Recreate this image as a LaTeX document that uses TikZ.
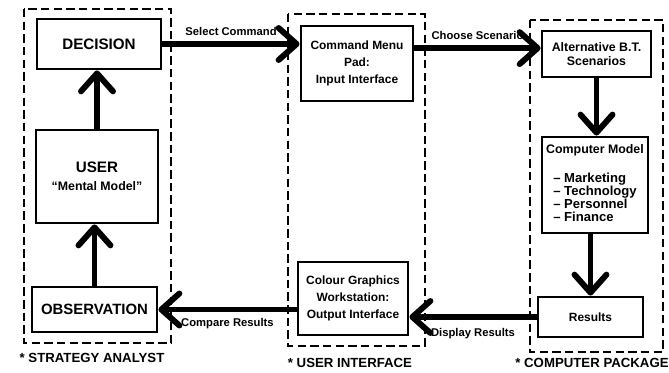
\documentclass[tikz,border=0pt]{standalone}
\usepackage{fontspec}
\setmainfont{Liberation Sans}
\usetikzlibrary{arrows.meta}

\begin{document}
\begin{tikzpicture}[x=0.025cm,y=-0.025cm,
    box/.style={draw,line width=2pt,align=center,inner sep=2pt,font=\bfseries\fontsize{8.5}{12}\selectfont},
    group/.style={line width=1.3pt,dash pattern=on 6pt off 3pt},
    flow/.style={line width=4.2pt,-{Straight Barb[length=0.45cm,width=0.8cm,round]}},
    lbl/.style={font=\bfseries\fontsize{8}{9}\selectfont,inner sep=1pt},
    grouplbl/.style={font=\bfseries\fontsize{9.4}{11}\selectfont}]
\useasboundingbox (0,0) rectangle (669,373);

% strategy analyst
\draw[group] (24,9) rectangle (171,343);
\node[box,minimum width=3.1cm,minimum height=1.25cm,font=\bfseries\fontsize{10.8}{13}\selectfont] (dec) at (99,44) {DECISION};
\node[box,minimum width=3.05cm,minimum height=2.325cm] (user) at (97,176.5)
    {{\fontsize{10.8}{13}\selectfont USER}\\[1pt]{\fontsize{8.8}{10}\selectfont ``Mental Model''}};
\node[box,minimum width=3.125cm,minimum height=1.125cm,font=\bfseries\fontsize{10.6}{13}\selectfont] (obs) at (94.5,309.5) {OBSERVATION};
\node[grouplbl] (salbl) at (92,358) {* STRATEGY ANALYST};

% user interface
\draw[group] (288,14) rectangle (425,346);
\node[box,minimum width=2.8cm,minimum height=1.875cm] (cmd) at (357,63.5) {Command Menu\\Pad:\\Input Interface};
\node[box,minimum width=2.75cm,minimum height=1.825cm] (cg) at (353,298.5) {Colour Graphics\\Workstation:\\Output Interface};
\node[grouplbl] (uilbl) at (350,363) {* USER INTERFACE};

% computer package
\draw[group] (530,20) rectangle (663,352);
\node[box,minimum width=2.725cm,minimum height=1.15cm,font=\bfseries\fontsize{8.8}{10}\selectfont] (alt) at (596.5,54) {Alternative B.T.\\Scenarios};
\node[box,minimum width=2.65cm,minimum height=2.4cm,font=\bfseries\fontsize{8.8}{10}\selectfont] (cm) at (595,185)
    {Computer Model\\[11pt]{\fontsize{9.3}{8.6}\selectfont\begin{tabular}{@{}l@{}}-- Marketing\\-- Technology\\-- Personnel\\-- Finance\end{tabular}}};
\node[box,minimum width=2.625cm,minimum height=1cm] (res) at (590.5,317) {Results};
\node[grouplbl] (cplbl) at (592,363) {* COMPUTER PACKAGE};

\draw[flow] (user.north) -- (user.north |- dec.south);
\draw[flow] (obs.north) -- (obs.north |- user.south);
\draw[flow] (alt.south) -- (alt.south |- cm.north);
\draw[flow] (res.north |- cm.south) -- (res.north);

\draw[flow] (dec.east) -- (dec.east -| cmd.west) node[lbl,midway,above=3pt] {Select Command};
\draw[flow] (cmd.east |- alt.174) -- (alt.174) node[lbl,midway,above=3pt] {Choose Scenario};
\draw[flow] (cg.west |- obs.east) -- (obs.east) node[lbl,midway,below=3pt] {Compare Results};
\draw[flow] (res.west) -- (res.west -| cg.east) node[lbl,midway,below=5pt] {Display Results};
\end{tikzpicture}
\end{document}
